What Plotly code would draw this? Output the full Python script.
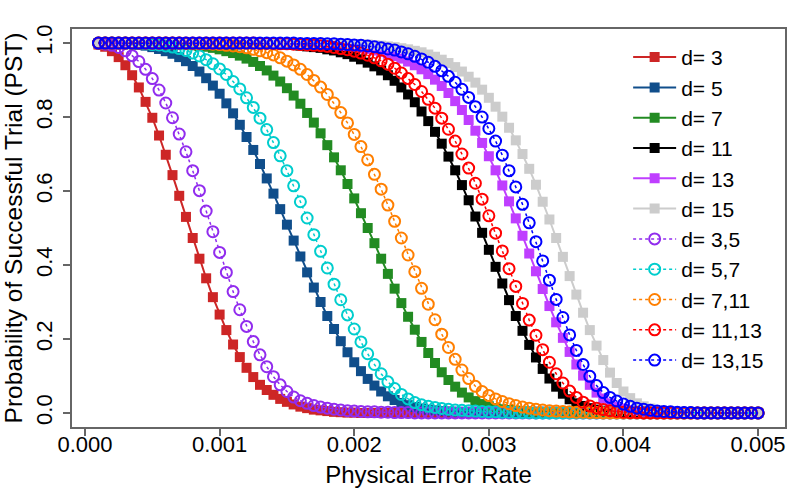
import plotly.graph_objects as go

# physical error rate grid (x axis)
error_rate = [
    0.0001, 0.00015, 0.0002, 0.00025, 0.0003, 0.00035, 0.0004, 0.00045, 0.0005, 0.00055,
    0.0006, 0.00065, 0.0007, 0.00075, 0.0008, 0.00085, 0.0009, 0.00095, 0.001, 0.00105,
    0.0011, 0.00115, 0.0012, 0.00125, 0.0013, 0.00135, 0.0014, 0.00145, 0.0015, 0.00155,
    0.0016, 0.00165, 0.0017, 0.00175, 0.0018, 0.00185, 0.0019, 0.00195, 0.002, 0.00205,
    0.0021, 0.00215, 0.0022, 0.00225, 0.0023, 0.00235, 0.0024, 0.00245, 0.0025, 0.00255,
    0.0026, 0.00265, 0.0027, 0.00275, 0.0028, 0.00285, 0.0029, 0.00295, 0.003, 0.00305,
    0.0031, 0.00315, 0.0032, 0.00325, 0.0033, 0.00335, 0.0034, 0.00345, 0.0035, 0.00355,
    0.0036, 0.00365, 0.0037, 0.00375, 0.0038, 0.00385, 0.0039, 0.00395, 0.004, 0.00405,
    0.0041, 0.00415, 0.0042, 0.00425, 0.0043, 0.00435, 0.0044, 0.00445, 0.0045, 0.00455,
    0.0046, 0.00465, 0.0047, 0.00475, 0.0048, 0.00485, 0.0049, 0.00495, 0.005,
]

# PST for single code distances (solid lines, filled squares)
pst_d3 = [
    0.996, 0.990, 0.978, 0.962, 0.940, 0.913, 0.880, 0.841, 0.798, 0.750,
    0.698, 0.643, 0.587, 0.530, 0.473, 0.417, 0.364, 0.313, 0.266, 0.224,
    0.185, 0.151, 0.122, 0.097, 0.076, 0.062, 0.049, 0.038, 0.030, 0.023,
    0.017, 0.013, 0.009, 0.007, 0.005, 0.003, 0.002, 0.001, 0.001, 0,
    0, 0, 0, 0, 0, 0, 0, 0, 0, 0,
    0, 0, 0, 0, 0, 0, 0, 0, 0, 0,
    0, 0, 0, 0, 0, 0, 0, 0, 0, 0,
    0, 0, 0, 0, 0, 0, 0, 0, 0, 0,
    0, 0, 0, 0, 0, 0, 0, 0, 0, 0,
    0, 0, 0, 0, 0, 0, 0, 0, 0,
]
pst_d5 = [
    1, 1, 1, 0.999, 0.998, 0.997, 0.995, 0.993, 0.989, 0.984,
    0.978, 0.971, 0.962, 0.951, 0.938, 0.923, 0.905, 0.885, 0.863, 0.837,
    0.810, 0.779, 0.746, 0.711, 0.673, 0.634, 0.593, 0.551, 0.509, 0.466,
    0.423, 0.380, 0.339, 0.300, 0.262, 0.227, 0.194, 0.164, 0.137, 0.113,
    0.092, 0.074, 0.058, 0.045, 0.035, 0.027, 0.021, 0.016, 0.012, 0.009,
    0.007, 0.005, 0.004, 0.003, 0.002, 0.002, 0.001, 0.001, 0.001, 0,
    0, 0, 0, 0, 0, 0, 0, 0, 0, 0,
    0, 0, 0, 0, 0, 0, 0, 0, 0, 0,
    0, 0, 0, 0, 0, 0, 0, 0, 0, 0,
    0, 0, 0, 0, 0, 0, 0, 0, 0,
]
pst_d7 = [
    1, 1, 1, 1, 1, 1, 1, 1, 0.999, 0.999,
    0.999, 0.998, 0.997, 0.996, 0.994, 0.992, 0.990, 0.987, 0.983, 0.978,
    0.973, 0.966, 0.958, 0.949, 0.938, 0.926, 0.912, 0.896, 0.878, 0.858,
    0.836, 0.811, 0.785, 0.756, 0.724, 0.691, 0.656, 0.619, 0.580, 0.540,
    0.500, 0.459, 0.417, 0.376, 0.336, 0.297, 0.260, 0.225, 0.192, 0.162,
    0.135, 0.110, 0.089, 0.071, 0.055, 0.042, 0.032, 0.024, 0.018, 0.013,
    0.010, 0.008, 0.006, 0.004, 0.003, 0.002, 0.001, 0.001, 0, 0,
    0, 0, 0, 0, 0, 0, 0, 0, 0, 0,
    0, 0, 0, 0, 0, 0, 0, 0, 0, 0,
    0, 0, 0, 0, 0, 0, 0, 0, 0,
]
pst_d11 = [
    1, 1, 1, 1, 1, 1, 1, 1, 1, 1,
    1, 1, 1, 1, 1, 1, 1, 1, 1, 1,
    1, 0.999, 0.999, 0.999, 0.999, 0.998, 0.998, 0.997, 0.996, 0.995,
    0.993, 0.991, 0.989, 0.987, 0.983, 0.980, 0.975, 0.970, 0.963, 0.956,
    0.947, 0.937, 0.926, 0.913, 0.898, 0.880, 0.861, 0.840, 0.815, 0.789,
    0.760, 0.728, 0.693, 0.656, 0.616, 0.575, 0.531, 0.487, 0.441, 0.395,
    0.350, 0.305, 0.262, 0.222, 0.184, 0.150, 0.119, 0.093, 0.071, 0.052,
    0.037, 0.026, 0.019, 0.013, 0.009, 0.006, 0.004, 0.002, 0.001, 0.001,
    0, 0, 0, 0, 0, 0, 0, 0, 0, 0,
    0, 0, 0, 0, 0, 0, 0, 0, 0,
]
pst_d13 = [
    1, 1, 1, 1, 1, 1, 1, 1, 1, 1,
    1, 1, 1, 1, 1, 1, 1, 1, 1, 1,
    1, 1, 1, 1, 1, 1, 1, 0.999, 0.999, 0.999,
    0.999, 0.998, 0.997, 0.997, 0.996, 0.995, 0.993, 0.992, 0.990, 0.987,
    0.984, 0.980, 0.976, 0.971, 0.965, 0.958, 0.950, 0.940, 0.929, 0.916,
    0.901, 0.884, 0.865, 0.843, 0.819, 0.792, 0.763, 0.730, 0.694, 0.656,
    0.615, 0.572, 0.526, 0.479, 0.431, 0.383, 0.335, 0.289, 0.245, 0.203,
    0.165, 0.131, 0.101, 0.076, 0.055, 0.039, 0.026, 0.017, 0.012, 0.008,
    0.005, 0.003, 0.002, 0.001, 0.001, 0, 0, 0, 0, 0,
    0, 0, 0, 0, 0, 0, 0, 0, 0,
]
pst_d15 = [
    1, 1, 1, 1, 1, 1, 1, 1, 1, 1,
    1, 1, 1, 1, 1, 1, 1, 1, 1, 1,
    1, 1, 1, 1, 1, 1, 1, 1, 1, 1,
    1, 1, 0.999, 0.999, 0.999, 0.999, 0.998, 0.998, 0.997, 0.996,
    0.996, 0.994, 0.993, 0.991, 0.989, 0.986, 0.983, 0.979, 0.975, 0.969,
    0.963, 0.955, 0.946, 0.935, 0.923, 0.909, 0.893, 0.874, 0.852, 0.828,
    0.801, 0.771, 0.737, 0.700, 0.660, 0.617, 0.571, 0.523, 0.473, 0.422,
    0.370, 0.320, 0.271, 0.224, 0.182, 0.143, 0.109, 0.081, 0.058, 0.040,
    0.026, 0.018, 0.012, 0.008, 0.005, 0.003, 0.002, 0.001, 0.001, 0,
    0, 0, 0, 0, 0, 0, 0, 0, 0,
]

# PST for mixed distance pairs (dotted lines, open circles)
pst_d3_5 = [
    0.999, 0.997, 0.994, 0.988, 0.979, 0.966, 0.950, 0.929, 0.904, 0.873,
    0.838, 0.798, 0.754, 0.706, 0.655, 0.601, 0.546, 0.490, 0.434, 0.380,
    0.328, 0.279, 0.234, 0.193, 0.157, 0.125, 0.098, 0.076, 0.058, 0.043,
    0.033, 0.026, 0.020, 0.016, 0.013, 0.010, 0.008, 0.006, 0.005, 0.004,
    0.003, 0.003, 0.002, 0.002, 0.001, 0.001, 0.001, 0, 0, 0,
    0, 0, 0, 0, 0, 0, 0, 0, 0, 0,
    0, 0, 0, 0, 0, 0, 0, 0, 0, 0,
    0, 0, 0, 0, 0, 0, 0, 0, 0, 0,
    0, 0, 0, 0, 0, 0, 0, 0, 0, 0,
    0, 0, 0, 0, 0, 0, 0, 0, 0,
]
pst_d5_7 = [
    1, 1, 1, 1, 1, 0.999, 0.999, 0.998, 0.996, 0.995,
    0.992, 0.989, 0.985, 0.980, 0.973, 0.965, 0.955, 0.944, 0.930, 0.915,
    0.896, 0.876, 0.852, 0.826, 0.797, 0.766, 0.731, 0.695, 0.655, 0.614,
    0.571, 0.527, 0.482, 0.437, 0.392, 0.348, 0.306, 0.265, 0.227, 0.192,
    0.160, 0.131, 0.106, 0.084, 0.066, 0.050, 0.038, 0.028, 0.022, 0.018,
    0.015, 0.012, 0.010, 0.008, 0.007, 0.006, 0.005, 0.004, 0.003, 0.003,
    0.002, 0.002, 0.001, 0.001, 0.001, 0, 0, 0, 0, 0,
    0, 0, 0, 0, 0, 0, 0, 0, 0, 0,
    0, 0, 0, 0, 0, 0, 0, 0, 0, 0,
    0, 0, 0, 0, 0, 0, 0, 0, 0,
]
pst_d7_11 = [
    1, 1, 1, 1, 1, 1, 1, 1, 1, 1,
    1, 1, 1, 0.999, 0.999, 0.998, 0.998, 0.997, 0.996, 0.994,
    0.992, 0.990, 0.987, 0.983, 0.979, 0.974, 0.968, 0.960, 0.951, 0.941,
    0.929, 0.915, 0.899, 0.881, 0.861, 0.838, 0.812, 0.784, 0.753, 0.720,
    0.684, 0.645, 0.605, 0.562, 0.518, 0.473, 0.427, 0.382, 0.337, 0.294,
    0.252, 0.213, 0.177, 0.145, 0.116, 0.093, 0.072, 0.058, 0.047, 0.038,
    0.031, 0.025, 0.020, 0.016, 0.013, 0.010, 0.008, 0.006, 0.005, 0.004,
    0.003, 0.002, 0.002, 0.001, 0.001, 0, 0, 0, 0, 0,
    0, 0, 0, 0, 0, 0, 0, 0, 0, 0,
    0, 0, 0, 0, 0, 0, 0, 0, 0,
]
pst_d11_13 = [
    1, 1, 1, 1, 1, 1, 1, 1, 1, 1,
    1, 1, 1, 1, 1, 1, 1, 1, 1, 1,
    1, 1, 1, 1, 0.999, 0.999, 0.999, 0.998, 0.998, 0.997,
    0.996, 0.995, 0.994, 0.993, 0.991, 0.988, 0.985, 0.982, 0.978, 0.973,
    0.967, 0.960, 0.952, 0.943, 0.932, 0.919, 0.904, 0.888, 0.869, 0.848,
    0.824, 0.797, 0.767, 0.735, 0.700, 0.662, 0.621, 0.578, 0.533, 0.486,
    0.438, 0.390, 0.342, 0.296, 0.251, 0.210, 0.171, 0.137, 0.106, 0.081,
    0.059, 0.042, 0.029, 0.019, 0.013, 0.009, 0.006, 0.004, 0.002, 0.001,
    0.001, 0, 0, 0, 0, 0, 0, 0, 0, 0,
    0, 0, 0, 0, 0, 0, 0, 0, 0,
]
pst_d13_15 = [
    1, 1, 1, 1, 1, 1, 1, 1, 1, 1,
    1, 1, 1, 1, 1, 1, 1, 1, 1, 1,
    1, 1, 1, 1, 1, 1, 1, 1, 1, 1,
    0.999, 0.999, 0.999, 0.999, 0.998, 0.998, 0.997, 0.996, 0.995, 0.994,
    0.992, 0.990, 0.987, 0.984, 0.981, 0.976, 0.971, 0.964, 0.957, 0.948,
    0.937, 0.925, 0.910, 0.894, 0.875, 0.853, 0.828, 0.800, 0.769, 0.735,
    0.697, 0.655, 0.611, 0.564, 0.514, 0.463, 0.411, 0.359, 0.307, 0.258,
    0.211, 0.169, 0.131, 0.099, 0.074, 0.055, 0.042, 0.032, 0.024, 0.018,
    0.013, 0.010, 0.007, 0.005, 0.004, 0.003, 0.002, 0.001, 0.001, 0,
    0, 0, 0, 0, 0, 0, 0, 0, 0,
]

solid_names = ["d= 3", "d= 5", "d= 7", "d= 11", "d= 13", "d= 15"]
solid_values = [pst_d3, pst_d5, pst_d7, pst_d11, pst_d13, pst_d15]
solid_colors = ["#CD2626", "#104E8B", "#228B22", "#000000", "#BF3EFF", "#CCCCCC"]

dotted_names = ["d= 3,5", "d= 5,7", "d= 7,11", "d= 11,13", "d= 13,15"]
dotted_values = [pst_d3_5, pst_d5_7, pst_d7_11, pst_d11_13, pst_d13_15]
dotted_colors = ["#912CEE", "#00CDCD", "#FF7F00", "#FF0000", "#0000FF"]

x_ticks = [0.0, 0.001, 0.002, 0.003, 0.004, 0.005]
y_ticks = [0.0, 0.2, 0.4, 0.6, 0.8, 1.0]

FONT = "Liberation Sans, Arial, sans-serif"

fig = go.Figure()
for name, vals, col in zip(solid_names, solid_values, solid_colors):
    assert len(vals) == len(error_rate), name
    fig.add_trace(go.Scatter(
        x=error_rate, y=vals, name=name, mode="lines+markers",
        line=dict(color=col, width=2),
        marker=dict(symbol="square", size=10, color=col),
    ))
for name, vals, col in zip(dotted_names, dotted_values, dotted_colors):
    assert len(vals) == len(error_rate), name
    fig.add_trace(go.Scatter(
        x=error_rate, y=vals, name=name, mode="lines+markers",
        line=dict(color=col, width=1.5, dash="dot"),
        marker=dict(symbol="circle-open", size=11, color=col, line=dict(width=2, color=col)),
    ))

axis_style = dict(
    showline=True, mirror=True, linecolor="#666666", linewidth=1.5,
    ticks="outside", ticklen=7, tickwidth=1.5, tickcolor="#666666",
    showgrid=False, zeroline=False, automargin=False,
    tickfont=dict(family=FONT, size=22, color="black"),
)

fig.update_layout(
    width=800, height=500,
    margin=dict(l=72, r=15, t=29, b=73),
    paper_bgcolor="white", plot_bgcolor="white",
    font=dict(family=FONT, color="black"),
    xaxis=dict(
        range=[-0.0000966, 0.0052], tickvals=x_ticks, tickformat=".3f",
        ticklabelstandoff=-10,
        title=dict(text="Physical Error Rate", font=dict(size=24), standoff=10),
        **axis_style,
    ),
    yaxis=dict(
        range=[-0.038, 1.038], tickvals=y_ticks, tickformat=".1f", tickangle=-90,
        ticklabelstandoff=2,
        title=dict(text="Probability of Successful Trial (PST)", font=dict(size=24.5), standoff=17),
        **axis_style,
    ),
    legend=dict(
        x=0.78, y=0.98, xanchor="left", yanchor="top",
        font=dict(family=FONT, size=21), bgcolor="rgba(0,0,0,0)",
        itemwidth=43, tracegroupgap=0,
    ),
)

# the page body has a default 8px margin; drop it so the figure sits at the window corner
fig.write_html("out.html", config={"displayModeBar": False},
               post_script="document.body.style.margin='0px';")
